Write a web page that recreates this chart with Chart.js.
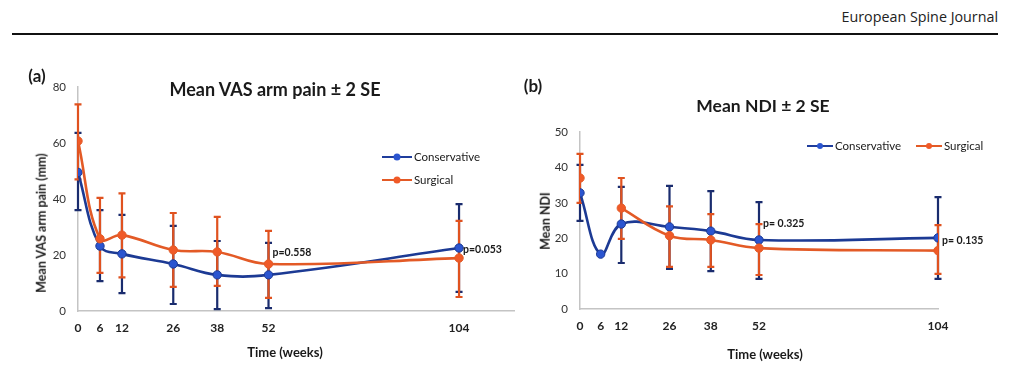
<!DOCTYPE html>
<html><head><meta charset="utf-8">
<script src="https://cdn.jsdelivr.net/npm/chart.js@4.4.1/dist/chart.umd.min.js"></script>
<style>
html,body{margin:0;padding:0;background:#fff;}
body{width:1012px;height:366px;position:relative;overflow:hidden;font-family:Lato,"Open Sans",sans-serif;color:#1a1a1a;}
.t{position:absolute;white-space:nowrap;line-height:1;}
.c{transform:translate(-50%,-50%);}
.rot{transform:translate(-50%,-50%) rotate(-90deg);}
.leg{position:absolute;white-space:nowrap;font-size:11.5px;line-height:1;color:#1a1a1a;display:flex;align-items:center;}
.mk{position:relative;display:inline-block;width:30px;height:2px;margin-right:2px;}
.mk i{position:absolute;left:50%;top:50%;width:7px;height:7px;border-radius:50%;transform:translate(-50%,-50%);}
canvas{position:absolute;top:0;}
</style></head>
<body>
<div class="t" style="right:14px;top:10px;font-family:'Open Sans';font-size:14.3px;color:#222;">European Spine Journal</div>
<div style="position:absolute;left:12px;top:33px;width:986px;height:2px;background:#111;"></div>

<canvas id="ca" width="520" height="366" style="left:0"></canvas>
<canvas id="cb" width="492" height="366" style="left:520px"></canvas>

<div class="t c" style="left:37px;top:75px;font-size:17px;font-weight:700;">(a)</div>
<div class="t c" style="left:275px;top:89px;font-size:18px;font-weight:700;">Mean VAS arm pain ± 2 SE</div>
<div class="t rot" style="left:42px;top:223px;font-size:12.5px;font-weight:700;">Mean VAS arm pain (mm)</div>
<div class="t c" style="left:285px;top:352px;font-size:13px;font-weight:700;">Time (weeks)</div>
<div class="leg" style="left:382px;top:151px;"><span class="mk" style="background:#1f3d9c"><i style="background:#2b55d0"></i></span>Conservative</div>
<div class="leg" style="left:382px;top:174px;"><span class="mk" style="background:#e35a26"><i style="background:#f05a28"></i></span>Surgical</div>

<div class="t c" style="left:533px;top:85px;font-size:17px;font-weight:700;">(b)</div>
<div class="t c" style="left:763px;top:106px;font-size:17.5px;font-weight:700;">Mean NDI ± 2 SE</div>
<div class="t rot" style="left:546px;top:221px;font-size:12.5px;font-weight:700;">Mean NDI</div>
<div class="t c" style="left:765px;top:354px;font-size:13px;font-weight:700;">Time (weeks)</div>
<div class="leg" style="left:807px;top:140px;"><span class="mk" style="background:#1f3d9c;width:26px"><i style="background:#2b55d0;width:6px;height:6px"></i></span>Conservative</div>
<div class="leg" style="left:916px;top:140px;"><span class="mk" style="background:#e35a26;width:26px"><i style="background:#f05a28;width:6px;height:6px"></i></span>Surgical</div>

<script>
// ---- shared ----
const weeks = [0, 6, 12, 26, 38, 52, 104];
const seriesNames = ['Conservative', 'Surgical'];

// ---- panel (a): Mean VAS arm pain ----
const vasConservative     = [49.5, 23.2, 20.4, 16.8, 12.9, 12.9, 22.5];
const vasConservativeLow  = [36.0, 10.7, 6.4, 2.5, 0.7, 1.0, 6.8];
const vasConservativeHigh = [63.6, 36.0, 34.3, 30.4, 25.0, 24.3, 38.2];
const vasSurgical         = [60.7, 25.8, 27.1, 21.8, 21.1, 16.8, 18.9];
const vasSurgicalLow      = [47.0, 13.6, 12.0, 8.6, 9.0, 4.7, 5.0];
const vasSurgicalHigh     = [73.8, 40.4, 42.0, 35.0, 33.6, 28.6, 32.2];
const vasTicks = [0, 20, 40, 60, 80];
const vasPWeeks  = [52, 104];
const vasPValues = ['p=0.558', 'p=0.053'];
const vasPAt     = [21.0, 22.0];

// ---- panel (b): Mean NDI ----
const ndiConservative     = [32.8, 15.5, 24.0, 23.2, 22.0, 19.5, 20.1];
const ndiConservativeLow  = [24.9, null, 13.0, 11.3, 10.7, 8.5, 8.5];
const ndiConservativeHigh = [40.7, null, 34.5, 34.8, 33.3, 30.2, 31.6];
const ndiSurgical         = [37.0, null, 28.5, 20.7, 19.5, 17.2, 16.5];
const ndiSurgicalLow      = [30.0, null, 19.8, 11.9, 11.9, 9.6, 9.9];
const ndiSurgicalHigh     = [43.8, null, 37.0, 29.0, 26.8, 24.0, 23.7];
const ndiTicks = [0, 10, 20, 30, 40, 50];
const ndiPWeeks  = [52, 104];
const ndiPValues = ['p= 0.325', 'p= 0.135'];
const ndiPAt     = [24.0, 19.3];

const BLUE = '#1c3a94', BLUE_PT = '#2b55d0', BLUE_ERR = '#1a2c6e';
const ORNG = '#e35a26', ORNG_PT = '#f05a28', ORNG_ERR = '#e0521f';

const errorBars = {
  id: 'errorBars',
  beforeDatasetsDraw(chart) {
    const {ctx, scales: {x, y}} = chart;
    chart.data.datasets.forEach(ds => {
      ctx.save();
      ctx.strokeStyle = ds.errColor;
      ctx.lineWidth = 2.2;
      ds.data.forEach((p, i) => {
        const lo = ds.errLow[i], hi = ds.errHigh[i];
        if (lo == null || hi == null) return;
        const px = x.getPixelForValue(p.x);
        const y1 = y.getPixelForValue(lo), y2 = y.getPixelForValue(hi);
        ctx.beginPath();
        ctx.moveTo(px, y1); ctx.lineTo(px, y2);
        ctx.moveTo(px - 3.5, y1); ctx.lineTo(px + 3.5, y1);
        ctx.moveTo(px - 3.5, y2); ctx.lineTo(px + 3.5, y2);
        ctx.stroke();
      });
      ctx.restore();
    });
  }
};

const pLabels = {
  id: 'pLabels',
  afterDatasetsDraw(chart, args, opts) {
    const {ctx, scales: {x, y}} = chart;
    ctx.save();
    ctx.font = 'bold 10.5px Lato';
    ctx.fillStyle = '#1a1a1a';
    ctx.textAlign = 'left';
    ctx.textBaseline = 'middle';
    opts.texts.forEach((t, i) => {
      ctx.fillText(t, x.getPixelForValue(opts.weeks[i]) + 4, y.getPixelForValue(opts.at[i]));
    });
    ctx.restore();
  }
};

function pts(vals) { return weeks.map((w, i) => ({x: w, y: vals[i]})); }

function makeChart(id, cfg) {
  return new Chart(document.getElementById(id), {
    type: 'line',
    data: {
      datasets: [
        {label: seriesNames[0], data: pts(cfg.cons), errLow: cfg.consLow, errHigh: cfg.consHigh,
         errColor: BLUE_ERR, borderColor: BLUE, backgroundColor: BLUE_PT, pointBackgroundColor: BLUE_PT,
         pointBorderColor: BLUE, pointBorderWidth: 1, pointRadius: 4.2, borderWidth: 2.6, tension: 0.4, order: 1},
        {label: seriesNames[1], data: pts(cfg.surg), errLow: cfg.surgLow, errHigh: cfg.surgHigh,
         errColor: ORNG_ERR, borderColor: ORNG, backgroundColor: ORNG_PT, pointBackgroundColor: ORNG_PT,
         pointBorderColor: ORNG, pointBorderWidth: 1, pointRadius: 4.2, borderWidth: 2.6, tension: 0.4, order: 0}
      ]
    },
    options: {
      responsive: false, animation: false, spanGaps: false,
      layout: {padding: cfg.padding},
      plugins: {legend: {display: false}, title: {display: false}, tooltip: {enabled: false},
                pLabels: {texts: cfg.pTexts, weeks: cfg.pWeeks, at: cfg.pAt}},
      scales: {
        x: {type: 'linear', min: 0, max: cfg.xMax,
            grid: {display: false, drawTicks: false},
            border: {display: true, color: '#c4c4c4', width: 1.5},
            afterBuildTicks: s => { s.ticks = weeks.map(v => ({value: v})); },
            afterFit: s => { s.height = cfg.xH; },
            ticks: {padding: 10, color: '#222', font: {family: 'Lato', size: 12, weight: 'bold'}, autoSkip: false, maxRotation: 0}},
        y: {type: 'linear', min: cfg.yTicks[0], max: cfg.yTicks[cfg.yTicks.length - 1],
            grid: {display: false, drawTicks: false},
            border: {display: true, color: '#c4c4c4', width: 1.5},
            afterBuildTicks: s => { s.ticks = cfg.yTicks.map(v => ({value: v})); },
            afterFit: s => { s.width = cfg.yW; },
            ticks: {padding: 12, color: '#333', font: {family: 'Lato', size: 11.5}}}
      }
    },
    plugins: [errorBars, pLabels]
  });
}

makeChart('ca', {
  cons: vasConservative, consLow: vasConservativeLow, consHigh: vasConservativeHigh,
  surg: vasSurgical, surgLow: vasSurgicalLow, surgHigh: vasSurgicalHigh,
  yTicks: vasTicks, xMax: 119, pTexts: vasPValues, pWeeks: vasPWeeks, pAt: vasPAt,
  padding: {left: 30, top: 87, right: 6, bottom: 0}, yW: 48, xH: 55
});
makeChart('cb', {
  cons: ndiConservative, consLow: ndiConservativeLow, consHigh: ndiConservativeHigh,
  surg: ndiSurgical, surgLow: ndiSurgicalLow, surgHigh: ndiSurgicalHigh,
  yTicks: ndiTicks, xMax: 104, pTexts: ndiPValues, pWeeks: ndiPWeeks, pAt: ndiPAt,
  padding: {left: 30, top: 132, right: 74, bottom: 0}, yW: 30, xH: 57
});
</script>
</body></html>
